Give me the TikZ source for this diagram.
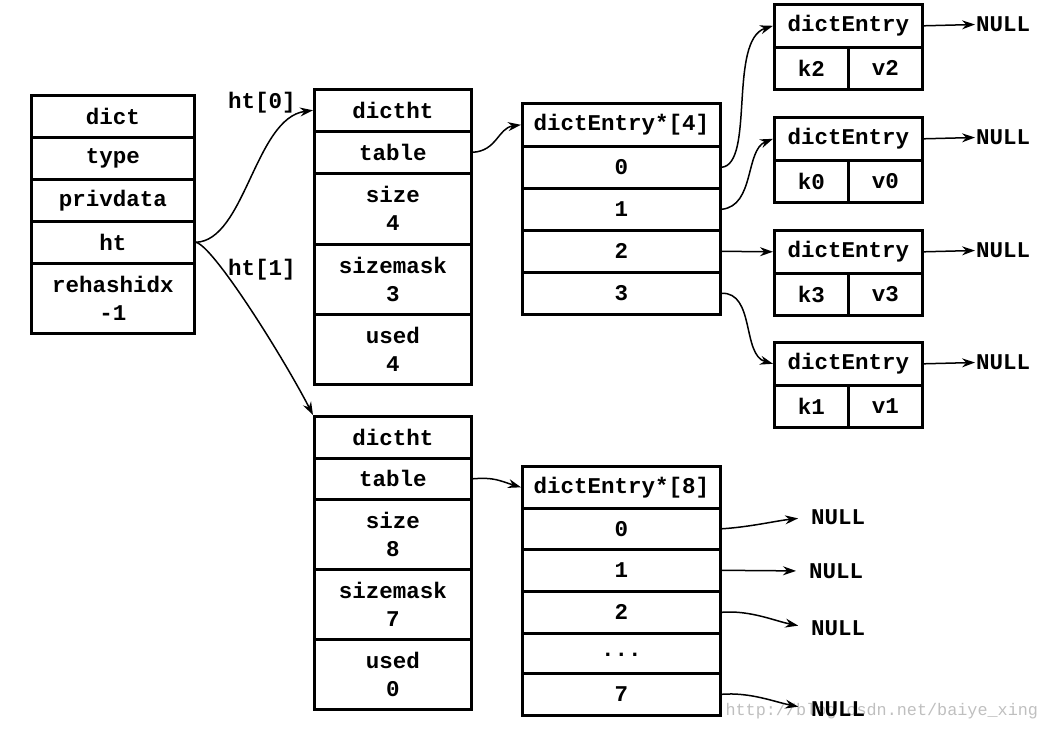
\documentclass[tikz,border=0pt]{standalone}
\usepackage{fontspec}
\setmonofont{Liberation Mono}
\usetikzlibrary{arrows.meta}
\begin{document}
\begin{tikzpicture}[x=1pt,y=-1pt,
  every node/.style={font=\ttfamily\bfseries\fontsize{22.5}{28}\selectfont},
  cell/.style={draw,line width=2.6pt,inner sep=0pt,anchor=north west,align=center},
  arr/.style={line width=1.5pt,-{Stealth[length=13pt,width=9pt]}},
  nul/.style={inner sep=1pt,anchor=west},
  wmark/.style={font=\ttfamily\mdseries\fontsize{16.8}{18}\selectfont,text=black!25}]
\useasboundingbox (0,0) rectangle (1046,731);
% watermark
\node[wmark,anchor=west] (wm) at (722,711) {http://blog.csdn.net/baiye\_xing};
% dict
\node[cell,minimum width=163pt,minimum height=42pt] (dict) at (30,94) {dict};
\node[cell,minimum width=163pt,minimum height=42pt] (type) at (30,136) {type};
\node[cell,minimum width=163pt,minimum height=42pt] (priv) at (30,178) {privdata};
\node[cell,minimum width=163pt,minimum height=42pt] (ht) at (30,220) {ht};
\node[cell,minimum width=163pt,minimum height=70pt] (rh) at (30,262) {rehashidx\\-1};
% dictht 0
\node[cell,minimum width=157pt,minimum height=42pt] (a0) at (313,88) {dictht};
\node[cell,minimum width=157pt,minimum height=42pt] (a1) at (313,130) {table};
\node[cell,minimum width=157pt,minimum height=71pt] (a2) at (313,172) {size\\4};
\node[cell,minimum width=157pt,minimum height=70pt] (a3) at (313,243) {sizemask\\3};
\node[cell,minimum width=157pt,minimum height=70pt] (a4) at (313,313) {used\\4};
% dictht 1
\node[cell,minimum width=157pt,minimum height=42pt] (b0) at (313,415) {dictht};
\node[cell,minimum width=157pt,minimum height=41pt] (b1) at (313,457) {table};
\node[cell,minimum width=157pt,minimum height=70pt] (b2) at (313,498) {size\\8};
\node[cell,minimum width=157pt,minimum height=70pt] (b3) at (313,568) {sizemask\\7};
\node[cell,minimum width=157pt,minimum height=70pt] (b4) at (313,638) {used\\0};
% dictEntry*[4]
\node[cell,minimum width=198pt,minimum height=43pt] (p0) at (521,102) {dictEntry*[4]};
\node[cell,minimum width=198pt,minimum height=42pt] (p1) at (521,145) {0};
\node[cell,minimum width=198pt,minimum height=42pt] (p2) at (521,187) {1};
\node[cell,minimum width=198pt,minimum height=42pt] (p3) at (521,229) {2};
\node[cell,minimum width=198pt,minimum height=42pt] (p4) at (521,271) {3};
% dictEntry*[8]
\node[cell,minimum width=198pt,minimum height=42pt] (q0) at (521,465) {dictEntry*[8]};
\node[cell,minimum width=198pt,minimum height=41pt] (q1) at (521,507) {0};
\node[cell,minimum width=198pt,minimum height=42pt] (q2) at (521,548) {1};
\node[cell,minimum width=198pt,minimum height=42pt] (q3) at (521,590) {2};
\node[cell,minimum width=198pt,minimum height=40pt] (q4) at (521,632) {\raisebox{-6pt}{...}};
\node[cell,minimum width=198pt,minimum height=42pt] (q5) at (521,672) {7};
% dictEntry nodes
\foreach \n/\y/\k/\v in {e1/3/k2/v2, e2/116/k0/v0, e3/229/k3/v3, e4/341/k1/v1}{
  \node[cell,minimum width=148pt,minimum height=43pt] (\n h) at (773,\y) {dictEntry};
  \node[cell,minimum width=74pt,minimum height=42pt] (\n k) at (773,\y+43) {\k};
  \node[cell,minimum width=74pt,minimum height=42pt] (\n v) at (847,\y+43) {\v};
  \node[nul] (\n n) at (975,\y+21.5) {NULL};
  \draw[arr] (\n h.east) -- (\n n.west);
}
% NULLs for [8]
\node[nul] (n0) at (810,517) {NULL};
\node[nul] (n1) at (808,571) {NULL};
\node[nul] (n2) at (810,628) {NULL};
\node[nul] (n7) at (810,709) {NULL};
% labels
\node (l0) at (262,103) {ht[0]};
\node (l1) at (262,270) {ht[1]};
% connectors
\draw[arr] (ht.east) .. controls (245,241) and (255,118) .. (a0.west);
\draw[arr] (ht.east) .. controls (212,244) and (282,355) .. (b0.north west);
\draw[arr] (a1.east) .. controls (497,151) and (498,128) .. (p0.west);
\draw[arr] (b1.east) .. controls (495,477) and (500,481) .. (q0.west);
\draw[arr] (p1.east) .. controls (755,164) and (728,40) .. (e1h.west);
\draw[arr] (p2.east) .. controls (755,206) and (745,150) .. (e2h.west);
\draw[arr] (p3.east) -- (e3h.west);
\draw[arr] (p4.east) .. controls (755,292) and (742,355) .. (e4h.west);
\draw[arr,shorten >=12pt] (q1.east) .. controls (750,527) and (775,521) .. (n0.west);
\draw[arr,shorten >=12pt] (q2.east) -- (n1.west);
\draw[arr,shorten >=12pt] (q3.east) .. controls (750,610) and (775,621) .. (n2.west);
\draw[arr,shorten >=12pt] (q5.east) .. controls (750,692) and (775,702) .. (n7.west);
\end{tikzpicture}
\end{document}
